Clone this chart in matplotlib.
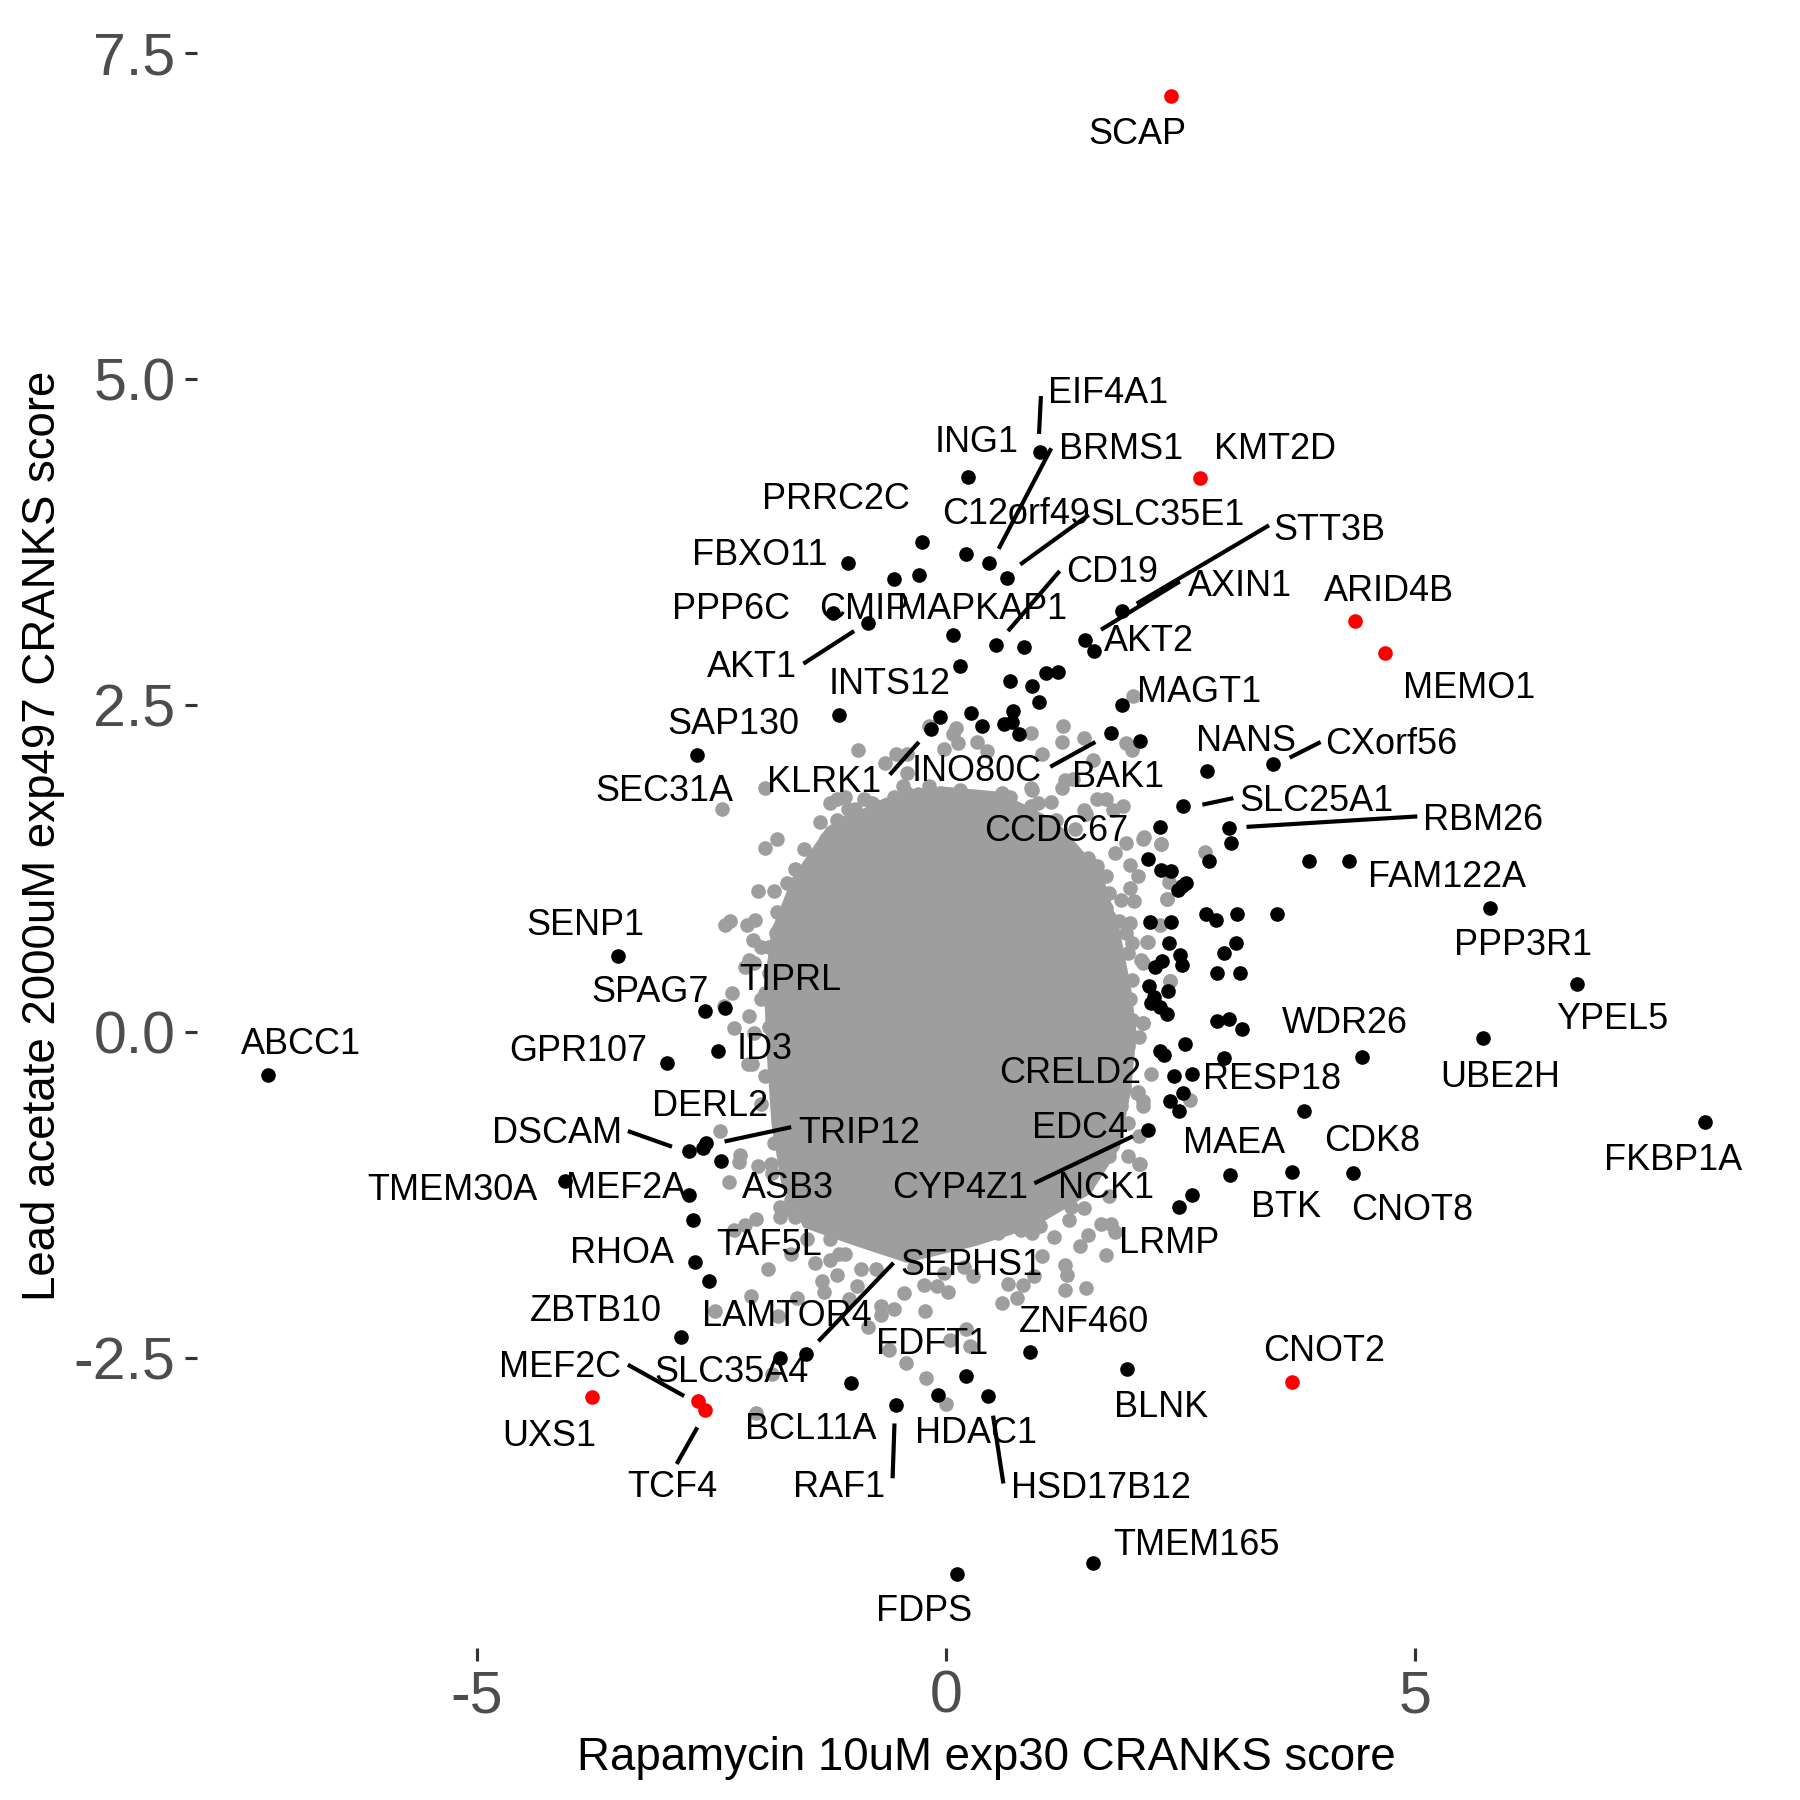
import matplotlib
matplotlib.use('Agg')
import matplotlib.pyplot as plt

plt.rcParams['font.family'] = ['Liberation Sans', 'DejaVu Sans']

# points that pass both cutoffs
red_x = [2.40, 2.71, 4.36, 4.68, 3.68, -3.77, -2.64, -2.57]
red_y = [7.17, 4.24, 3.15, 2.90, -2.68, -2.80, -2.83, -2.90]

# points that pass one cutoff
black_x = [1.00, 0.23, -0.26, -1.04, 0.21, 0.46, 0.65, -0.29, -0.56, -1.20, -0.83, 1.87, 0.07, 0.53, 0.83, 1.48, 1.58,
           0.15, 0.68, 0.92, 1.06, 1.19, 0.99, 1.87, -1.14, -0.07, 0.26, 0.38, 0.71, 0.62, 0.70, 0.78, 1.76, 2.07,
           -2.65, -0.16, 2.78, 3.48,
           2.28, 2.52, 3.01, 3.03, 2.80, 3.87, 4.29, 2.15, 2.29, 2.40, 2.56, 2.51, 2.47, 2.17, 2.40, 2.77, 2.88, 3.10,
           3.52, 2.37, 3.09, 2.96, 2.49, 2.51, 2.30, 2.23, 2.89, 3.13, 2.16, 2.36, 2.21, 2.18, 2.28, 2.35, 2.89, 3.01,
           3.15, 2.55, 2.28, 2.32, 2.96, 4.43, 2.43, 2.62, 2.52, 2.39, 2.48, 3.81, 2.15, 3.02, 3.69, 4.33, 2.62, 2.48,
           5.79, 6.72, 5.72, 8.08, -7.22, -3.50, -2.57, -2.36, -2.97, -2.43, -2.74, -2.59, -2.56, -2.40, -4.06, -2.74,
           -2.70, -2.68, -2.53, -2.82, -1.77, -1.49, -1.01, -0.53, -0.09, 0.21, 0.45, 0.89, 1.93, 1.56, 0.12]
black_y = [4.44, 4.25, 3.75, 3.59, 3.66, 3.59, 3.48, 3.50, 3.47, 3.21, 3.13, 3.22, 3.04, 2.96, 2.95, 3.00, 2.92,
           2.80, 2.69, 2.65, 2.75, 2.76, 2.53, 2.50, 2.43, 2.41, 2.44, 2.34, 2.46, 2.36, 2.37, 2.28, 2.29, 2.23,
           2.12, 2.32, 2.00, 2.05,
           1.57, 1.73, 1.56, 1.45, 1.31, 1.31, 1.31, 1.32, 1.24, 1.23, 1.14, 1.12, 1.09, 0.84, 0.84, 0.90, 0.86, 0.90,
           0.90, 0.68, 0.68, 0.60, 0.59, 0.51, 0.54, 0.50, 0.45, 0.45, 0.35, 0.31, 0.27, 0.22, 0.19, 0.14, 0.08, 0.10,
           0.02, -0.09, -0.15, -0.18, -0.20, -0.19, -0.34, -0.32, -0.47, -0.53, -0.61, -0.61, -0.75, -1.10, -1.07,
           -1.08, -1.25, -1.34,
           0.95, 0.37, -0.05, -0.69, -0.33, 0.58, 0.16, 0.18, -0.24, -0.15, -0.91, -0.89, -0.85, -0.99, -1.14, -1.25,
           -1.44, -1.76, -1.91, -2.34, -2.50, -2.47, -2.69, -2.86, -2.78, -2.64, -2.79, -2.45, -2.58, -4.07, -4.15]

# outline of the part of the cloud where the grey points merge
core_x = [-0.05, 0.56, 1.17, 1.66, 1.85, 1.97, 2.03, 1.97, 1.85, 1.54, 0.93, 0.32, -0.42, -0.97, -1.52, -1.76, -1.86,
          -1.91, -1.94, -1.86, -1.64, -1.27, -0.66]
core_y = [1.88, 1.84, 1.62, 1.22, 0.78, 0.34, -0.01, -0.45, -0.89, -1.24, -1.50, -1.64, -1.77, -1.64, -1.50, -1.15,
          -0.71, -0.18, 0.34, 0.78, 1.18, 1.57, 1.79]

# separate grey points round the edge of the cloud
grey_x = [-0.18, 0.11, 0.07, 0.33, -0.02, 0.13, 0.44, 1.24, 1.23, 1.47, 0.90, 1.02, 1.57, 1.92, 1.99, 1.98, -0.94,
          -0.53, -0.42, -0.65, -0.42, -1.93, -2.39, -1.34, -1.16, -1.24, -1.08, -0.97, -0.79, -1.28, -1.14, -1.25,
          -1.51, -1.80, -1.93, -1.38, -1.61, -1.69, -2.00, -1.83, -1.48, -1.48, -1.80, -1.61, -2.30, -2.36, -2.04,
          -2.12, -2.06, -1.79, -1.89, -2.10, -2.28, -2.37, -2.10, -2.26, -1.97, -2.11,
          0.60, 0.45, 0.68, 0.92, 1.12, 0.90, 1.47, 1.70, 1.88, 1.23, 1.35, 2.10, 2.29, 1.92, 1.80, 1.96, 1.51, 1.59,
          1.70, 2.04, 1.96, 1.74, 2.00, 1.70, 2.35, 1.84, 1.96, 2.14, 1.98, 2.08, 1.94, 2.39, 1.98, 1.96, 2.10, 1.98,
          2.06, 2.18,
          -2.41, -2.20, -2.21, -2.31, -1.87, -2.00, -2.03, -2.14, -2.26, -1.69, -1.77, -1.61, -1.24, -1.14, -1.40,
          -1.65, -1.90, -1.16, -1.32, -1.30, -2.08, -1.59, -2.46, -1.79, -0.95, -1.03, -0.69, -0.55, -0.69, -0.83,
          -0.45, -0.22, -0.24, -0.10, 0.02, 0.29, 0.66, 0.82, 0.94, 1.02, 1.15, 1.00, 1.27, 1.29, 1.27, 1.49, 0.76,
          0.60, 1.43, 1.51, 1.70, 1.65, 1.76, 1.80, 1.31, 1.47, 1.33, 1.10, 1.74, 1.41, 1.61, 1.74, 1.94, 2.06, 2.06,
          1.94, 2.10, 2.04, 1.86, 1.94, 2.10, 1.98, 0.04, 0.21, 0.25, -0.61, -0.43, -0.21, 0.00, -2.03, -1.85,
          2.11, 2.29, 2.76, 2.35, 2.37, 2.28, 2.15, 2.39, 2.60, 2.10, 2.03, 2.07,
          -0.46, -0.42, -0.30, -0.55, -0.18, -0.06, 0.15, 0.25, 0.90, 0.98, 1.27, 1.61, 1.78, 1.49, 1.17, 1.37, -1.16,
          -1.04, -0.87, -0.75, -1.06, -0.87, -0.59, -1.40, -1.34, -1.56, -1.73, -1.81, -1.67, -1.97, -2.05, -1.89,
          -2.14, -1.93, -1.89, -2.05, 1.61, 1.37, 1.53, 1.61, 1.86, 1.74, 1.92, 1.74, 2.10,
          1.86, 1.90, 1.78, 1.49, 1.53, 1.33, 1.21, 0.80, 0.64, 0.92, 0.55, 0.19, -0.02, -0.34, -0.75, -0.91, -1.08,
          -1.24, -1.48, -1.65, -1.77, -1.85, -1.83, -1.97, -1.93, -2.07]
grey_y = [2.34, 2.33, 2.28, 2.22, 2.17, 2.21, 2.15, 2.34, 2.22, 2.25, 2.29, 2.13, 2.08, 2.21, 2.57, 2.16, 2.16,
          2.13, 2.13, 2.06, 1.98, 1.87, 1.71, 1.61, 1.62, 1.75, 1.80, 1.71, 1.75, 1.48, 1.47, 1.37, 1.40, 1.48, 1.41,
          1.25, 1.25, 1.14, 1.08, 1.08, 1.06, 0.96, 0.92, 0.93, 0.85, 0.82, 0.86, 0.82, 0.70, 0.78, 0.65, 0.55, 0.30,
          0.20, 0.12, 0.03, 0.25, -0.25,
          1.83, 1.79, 1.80, 1.85, 1.76, 1.73, 1.70, 1.78, 1.73, 1.87, 1.94, 1.48, 1.44, 1.45, 1.37, 1.28, 1.33, 1.27,
          1.19, 1.19, 1.10, 1.06, 1.00, 0.95, 1.02, 0.85, 0.83, 0.69, 0.68, 0.55, 0.60, 0.39, 0.40, 0.25, 0.07, 0.09,
          -0.04, -0.32,
          -0.76, -0.94, -1.00, -1.15, -1.01, -1.03, -1.43, -1.48, -1.52, -1.36, -1.42, -1.42, -1.59, -1.70, -1.77,
          -1.70, -1.82, -1.86, -1.91, -1.99, -2.02, -2.04, -2.14, -2.18, -1.95, -2.05, -2.10, -2.12, -2.17, -2.26,
          -2.00, -2.14, -1.94, -1.95, -1.99, -1.87, -1.93, -1.94, -1.87, -1.72, -1.57, -1.49, -1.79, -1.86, -1.98,
          -1.96, -2.04, -2.08, -1.64, -1.56, -1.71, -1.47, -1.47, -1.53, -1.44, -1.35, -1.34, -1.26, -1.26, -0.98,
          -1.02, -0.95, -0.95, -1.01, -0.80, -0.70, -0.57, -0.46, -0.57, -0.11, 0.07, 0.09, -2.36, -2.28, -2.41, -2.44,
          -2.54, -2.65, -2.85, -2.92, -2.62,
          1.49, 1.44, 1.38, 1.02, 1.15, 0.82, 0.69, 0.39, -0.52, -0.53, -0.47, -1.01,
          1.88, 1.83, 1.82, 1.80, 1.88, 1.83, 1.85, 1.78, 1.87, 1.75, 1.93, 1.78, 1.70, 1.67, 1.62, 1.55, 1.78,
          1.71, 1.78, 1.73, 1.61, 1.52, 1.67, 1.11, 1.01, 0.86, 0.86, 0.76, 0.65, 0.65, 0.53, 0.45,
          0.50, 0.30, 0.04, -0.01, 1.27, 1.16, 1.11, 1.01, 1.01, 0.88, 0.76, 0.73, 0.53,
          -0.34, -0.42, -0.83, -1.03, -1.13, -1.21, -1.29, -1.52, -1.44, -1.54, -1.54, -1.80, -1.85, -1.80, -1.82,
          -1.82, -1.70, -1.75, -1.59, -1.29, -1.34, -1.08, -0.85, -0.55, -0.34, -0.25]

genes = ['SCAP', 'EIF4A1', 'ING1', 'BRMS1', 'KMT2D', 'PRRC2C', 'C12orf49', 'SLC35E1', 'STT3B', 'FBXO11', 'CD19',
         'AXIN1', 'ARID4B', 'PPP6C', 'CMIP', 'MAPKAP1', 'AKT2', 'AKT1', 'INTS12', 'MEMO1', 'MAGT1', 'SAP130', 'NANS',
         'CXorf56', 'INO80C', 'KLRK1', 'BAK1', 'SEC31A', 'SLC25A1', 'RBM26', 'CCDC67', 'FAM122A', 'SENP1', 'PPP3R1',
         'TIPRL', 'SPAG7', 'YPEL5', 'WDR26', 'ABCC1', 'GPR107', 'ID3', 'UBE2H', 'RESP18', 'CRELD2', 'DERL2', 'EDC4',
         'TRIP12', 'DSCAM', 'CDK8', 'MAEA', 'FKBP1A', 'TMEM30A', 'MEF2A', 'ASB3', 'CYP4Z1', 'NCK1', 'BTK', 'CNOT8',
         'TAF5L', 'LRMP', 'RHOA', 'SEPHS1', 'ZBTB10', 'LAMTOR4', 'ZNF460', 'FDFT1', 'CNOT2', 'MEF2C', 'SLC35A4',
         'BLNK', 'UXS1', 'BCL11A', 'HDAC1', 'RAF1', 'TCF4', 'HSD17B12', 'TMEM165', 'FDPS']
gene_x = [2.04, 1.72, 0.32, 1.86, 3.50, -1.17, 0.75, 2.36, 4.08, -1.99, 1.77, 3.13, 4.72, -2.29, -0.87, 0.38, 2.16,
          -2.07, -0.60, 5.57, 2.69, -2.27, 3.20, 4.74, 0.33, -1.30, 1.83, -3.00, 3.95, 5.72, 1.17, 5.34, -3.84, 6.15,
          -1.66, -3.15, 7.10, 4.25, -6.87, -3.92, -1.93, 5.90, 3.47, 1.32, -2.52, 1.43, -0.93, -4.14, 4.54, 3.07, 7.74,
          -5.26, -3.41, -1.69, 0.15, 1.70, 3.62, 4.96, -1.88, 2.38, -3.45, 0.27, -3.73, -1.70, 1.47, -0.15, 4.03, -4.11,
          -2.29, 2.29, -4.23, -1.44, 0.32, -1.14, -2.92, 1.65, 2.67, -0.23]
gene_y = [6.89, 4.91, 4.53, 4.48, 4.48, 4.10, 3.98, 3.97, 3.86, 3.67, 3.54, 3.43, 3.39, 3.25, 3.25, 3.25, 3.01,
          2.81, 2.68, 2.65, 2.62, 2.37, 2.24, 2.22, 2.01, 1.93, 1.97, 1.86, 1.78, 1.64, 1.55, 1.20, 0.83, 0.68,
          0.41, 0.32, 0.11, 0.08, -0.08, -0.13, -0.12, -0.33, -0.35, -0.30, -0.55, -0.72, -0.76, -0.76, -0.82, -0.84,
          -0.97, -1.20, -1.18, -1.18, -1.18, -1.18, -1.33, -1.35, -1.62, -1.60, -1.68, -1.77, -2.12, -2.16, -2.21,
          -2.38, -2.43, -2.55, -2.59, -2.86, -3.08, -3.03, -3.06, -3.47, -3.47, -3.48, -3.92, -4.42]

# connector lines from labels to their points
seg_x0 = [1.01, 1.12, 1.52, 3.44, 1.21, 2.49, -1.52, -0.60, 1.11, 3.66, 2.73, 3.20, -2.36, -3.39, 0.94, -0.56, -3.39,
          -2.65, -0.55, 0.50]
seg_y0 = [4.87, 4.47, 3.96, 3.88, 3.53, 3.45, 2.82, 1.97, 2.03, 2.10, 1.74, 1.57, -0.84, -0.76, -1.16, -1.77, -2.55,
          -3.03, -3.00, -2.94]
seg_x1 = [0.99, 0.56, 0.79, 2.03, 0.66, 1.65, -0.98, -0.29, 1.59, 3.99, 3.06, 5.02, -1.65, -2.92, 1.99, -1.36, -2.79,
          -2.87, -0.57, 0.61]
seg_y1 = [4.58, 3.70, 3.58, 3.28, 3.07, 3.08, 3.07, 2.22, 2.22, 2.22, 1.79, 1.65, -0.73, -0.88, -0.80, -2.37, -2.79,
          -3.31, -3.42, -3.46]

x_ticks = [-5, 0, 5]
x_tick_labels = ['-5', '0', '5']
y_ticks = [7.5, 5.0, 2.5, 0.0, -2.5]
y_tick_labels = ['7.5', '5.0', '2.5', '0.0', '-2.5']

fig = plt.figure(figsize=(6, 6), dpi=300)
ax = fig.add_axes([197 / 1800, 1 - 1648 / 1800, (1775 - 197) / 1800, (1648 - 24) / 1800])

ax.fill(core_x, core_y, color='#9E9E9E', linewidth=0, zorder=1)
ax.scatter(grey_x, grey_y, s=12.3, color='#9E9E9E', linewidths=0, zorder=2)
ax.scatter(black_x, black_y, s=12.3, color='black', linewidths=0, zorder=3)
ax.scatter(red_x, red_y, s=12.3, color='#FF0000', linewidths=0, zorder=4)

for x0, y0, x1, y1 in zip(seg_x0, seg_y0, seg_x1, seg_y1):
    ax.plot([x0, x1], [y0, y1], color='black', linewidth=1.0, solid_capstyle='butt', zorder=5)

for name, x, y in zip(genes, gene_x, gene_y):
    ax.text(x, y + 0.012, name, fontsize=8.65, ha='center', va='center_baseline', color='black', zorder=6)

ax.set_xlim(-7.98, 8.83)
ax.set_ylim(-4.72, 7.72)
ax.set_xticks(x_ticks)
ax.set_xticklabels(x_tick_labels)
ax.set_yticks(y_ticks)
ax.set_yticklabels(y_tick_labels)
ax.tick_params(axis='both', labelsize=14.2, labelcolor='#4D4D4D', color='#333333', length=3, width=0.75, pad=2.2)
for spine in ax.spines.values():
    spine.set_visible(False)

ax.set_xlabel('Rapamycin 10uM exp30 CRANKS score', fontsize=10.95, labelpad=2.8)
ax.set_ylabel('Lead acetate 2000uM exp497 CRANKS score', fontsize=10.95, labelpad=2.1)

fig.savefig('out.png', dpi=300)
